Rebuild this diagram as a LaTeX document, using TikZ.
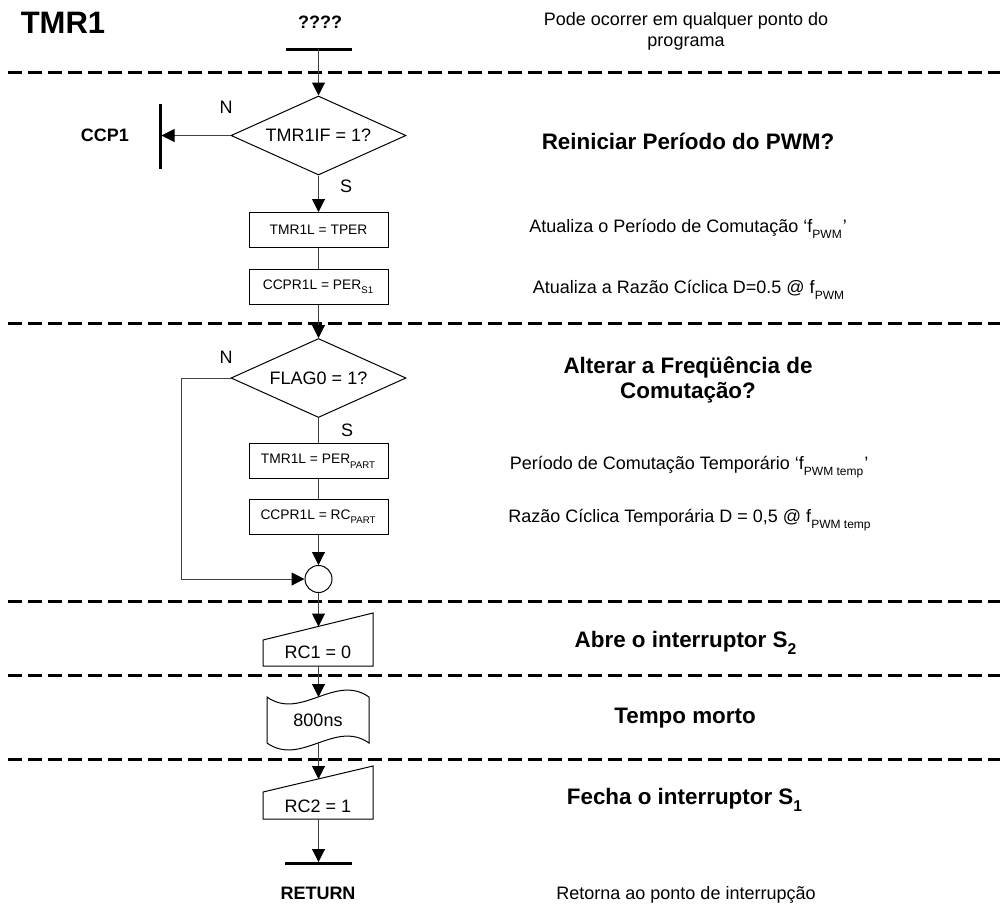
\documentclass[tikz,border=0pt]{standalone}
\usepackage{fontspec}
\setmainfont{Liberation Sans}
\usetikzlibrary{arrows.meta,shapes.geometric}
% subscript set a little below the usual position
\newcommand\lsub[1]{\raisebox{-0.35ex}{\textsubscript{#1}}}
\begin{document}
\begin{tikzpicture}[x=0.5pt,y=-0.5pt,
  txt/.style={font=\fontsize{9}{10.5}\selectfont, inner sep=0pt, align=center},
  head/.style={font=\fontsize{11.2}{12.5}\selectfont\bfseries, inner sep=0pt, align=center},
  lbl/.style={font=\fontsize{9}{11}\selectfont\bfseries, inner sep=0pt},
  procbox/.style={draw, line width=0.5pt, minimum width=69.5pt, minimum height=17.5pt,
    inner sep=0pt, font=\fontsize{6.9}{8}\selectfont},
  decision/.style={draw, diamond, line width=0.5pt, minimum width=87.5pt, minimum height=39.5pt,
    aspect=2.2, inner sep=0pt, font=\fontsize{9}{11}\selectfont},
  joint/.style={draw, circle, line width=0.5pt, minimum size=13.5pt, inner sep=0pt},
  shapeline/.style={line width=0.5pt, line join=miter},
  conn/.style={line width=0.5pt, draw=black!75},
  arr/.style={conn, -{Triangle[length=6.5pt,width=6.5pt,color=black]}},
  sep/.style={line width=1.5pt, dash pattern=on 7pt off 3pt},
  bar/.style={line width=1.5pt},
]
\useasboundingbox (0,0) rectangle (1000,907);

% section separators
\foreach \yy in {72,323,601,675,759}
  \draw[sep] (8,\yy) -- (1000,\yy);

% entry
\node[font=\fontsize{15.5}{18}\selectfont\bfseries, inner sep=0pt] (title) at (63,23) {TMR1};
\node[lbl] (entry) at (320,22) {????};
\coordinate (startL) at (286,49);
\coordinate (startR) at (352,49);
\coordinate (start) at (318.5,49);
\draw[bar] (startL) -- (startR);
\node[txt] (where) at (686,31) {Pode ocorrer em qualquer ponto do\\programa};

% first decision
\node[decision] (d1) at (318.5,135.5) {TMR1IF = 1?};
\draw[arr] (start) -- (d1.north);
\coordinate (ccpT) at (160,104);
\coordinate (ccpB) at (160,169);
\coordinate (ccp) at (161.5,135.5);
\draw[bar] (ccpT) -- (ccpB);
\node[lbl] (ccplbl) at (105,135) {CCP1};
\draw[arr] (d1.west) -- (ccp);
\node[txt] (n1) at (226,107) {N};
\node[txt] (s1) at (346,186) {S};
\node[head] (h1) at (688,141) {Reiniciar Período do PWM?};

\node[procbox] (b1) at (318.5,230) {TMR1L = TPER};
\node[procbox] (b2) at (318.5,286.5) {CCPR1L = PER\lsub{S1}};
\draw[arr] (d1.south) -- (b1.north);
\draw[conn] (b1.south) -- (b2.north);
\node[txt] (t1) at (688,229) {Atualiza o Período de Comutação ‘f\lsub{PWM}’};
\node[txt] (t2) at (689,290) {Atualiza a Razão Cíclica D=0.5 @ f\lsub{PWM}};

% second decision
\node[decision] (d2) at (318.5,378) {FLAG0 = 1?};
\draw[arr] (b2.south) -- (d2.north);
\node[txt] (n2) at (226,357) {N};
\node[txt] (s2) at (347,430) {S};
\node[head] (h2) at (688,380) {Alterar a Freqüência de\\Comutação?};

\node[procbox] (b3) at (318.5,461) {TMR1L = PER\lsub{PART}};
\node[procbox] (b4) at (318.5,516.5) {CCPR1L = RC\lsub{PART}};
\draw[conn] (d2.south) -- (b3.north);
\draw[conn] (b3.south) -- (b4.north);
\node[txt] (t3) at (689,467) {Período de Comutação Temporário ‘f\lsub{PWM temp}’};
\node[txt] (t4) at (690,520) {Razão Cíclica Temporária D = 0,5 @ f\lsub{PWM temp}};

\node[joint] (join) at (318.5,579) {};
\draw[arr] (b4.south) -- (join.north);
\draw[arr] (d2.west) -- ++(-49,0) |- (join.west);

% manual output RC1
\draw[shapeline] (263,640) -- (373,613) -- (373,666) -- (263,666) -- cycle;
\node[txt] (rc1) at (318,652) {RC1 = 0};
\coordinate (rc1top) at (318.5,626.5);
\coordinate (rc1bot) at (318.5,666);
\draw[arr] (join.south) -- (rc1top);
\node[head] (h3) at (686,643) {Abre o interruptor S\lsub{2}};

% delay
\draw[shapeline] (267,697) .. controls (301,721) and (335,673) .. (369,697)
  -- (369,743) .. controls (335,719) and (301,767) .. (267,743) -- cycle;
\node[txt] (tape) at (318,720) {800ns};
\coordinate (tapetop) at (318.5,697);
\coordinate (tapebot) at (318.5,743);
\draw[arr] (rc1bot) -- (tapetop);
\node[head] (h4) at (685,718) {Tempo morto};

% manual output RC2
\draw[shapeline] (263,792) -- (373,766) -- (373,819) -- (263,819) -- cycle;
\node[txt] (rc2) at (318,806) {RC2 = 1};
\coordinate (rc2top) at (318.5,779);
\coordinate (rc2bot) at (318.5,819);
\draw[arr] (tapebot) -- (rc2top);
\node[head] (h5) at (685,800) {Fecha o interruptor S\lsub{1}};

% exit
\coordinate (retL) at (285,863);
\coordinate (retR) at (352,863);
\coordinate (ret) at (318.5,862);
\draw[bar] (retL) -- (retR);
\draw[arr] (rc2bot) -- (ret);
\node[lbl] (retlbl) at (318,893) {RETURN};
\node[txt] (t5) at (686,895) {Retorna ao ponto de interrupção};
\end{tikzpicture}
\end{document}
